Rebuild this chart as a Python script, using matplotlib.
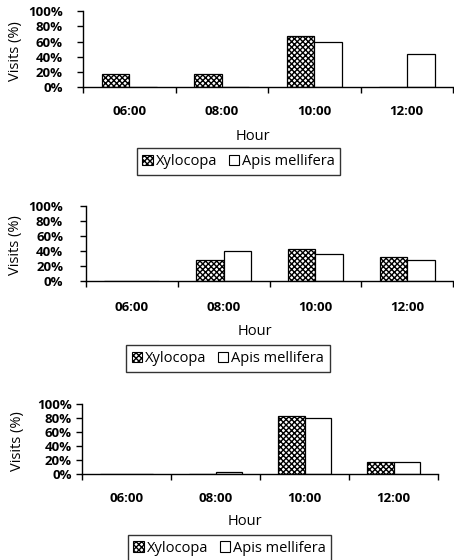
import matplotlib
matplotlib.use("Agg")
import matplotlib.pyplot as plt
from matplotlib.patches import Patch
import numpy as np

plt.rcParams['font.family'] = ['Open Sans', 'DejaVu Sans']
plt.rcParams['hatch.linewidth'] = 1.0

hours = ["06:00", "08:00", "10:00", "12:00"]
series_names = ["Xylocopa", "Apis mellifera"]
yticks = [0, 20, 40, 60, 80, 100]
ytick_labels = ["0%", "20%", "40%", "60%", "80%", "100%"]

# panel values (%)
xylocopa_1 = [18, 17, 67, 0]
apis_1 = [0, 0, 59, 43]
xylocopa_2 = [0, 28, 42, 31]
apis_2 = [0, 40, 36, 28]
xylocopa_3 = [0, 0, 84, 18]
apis_3 = [0, 4, 80, 18]

W, H = 454, 560
fig = plt.figure(figsize=(W / 100, H / 100), dpi=100)

panels = [
    dict(xyl=xylocopa_1, apis=apis_1, l=83, r=453, t=11, b=87.3, ypad=10.5,
         ylx=15, hx=253, hy=137, lgx=238.5, lgy=161.5, xpad=13),
    dict(xyl=xylocopa_2, apis=apis_2, l=86, r=453, t=205.7, b=280.7, ypad=12.5,
         ylx=15, hx=255, hy=331.7, lgx=228, lgy=358.5, xpad=14.5),
    dict(xyl=xylocopa_3, apis=apis_3, l=82, r=438, t=404.3, b=474.3, ypad=3.5,
         ylx=17, hx=245, hy=521.7, lgx=229.5, lgy=548, xpad=13),
]

bw = 0.3
x = np.arange(len(hours)) + 0.5
HATCH = 'xxxxxx'

for p in panels:
    ax = fig.add_axes([p['l'] / W, 1 - p['b'] / H, (p['r'] - p['l']) / W, (p['b'] - p['t']) / H])
    ax.bar(x - bw / 2, p['xyl'], bw, facecolor='white', edgecolor='black',
           hatch=HATCH, linewidth=0.9)
    ax.bar(x + bw / 2, p['apis'], bw, facecolor='white', edgecolor='black',
           linewidth=0.9)
    ax.set_xlim(0, len(hours))
    ax.set_ylim(0, 100)
    for s in ['top', 'right']:
        ax.spines[s].set_visible(False)
    for s in ['left', 'bottom']:
        ax.spines[s].set_linewidth(1.0)
    ax.set_yticks(yticks)
    ax.set_yticklabels(ytick_labels, fontsize=9.5, fontweight='bold')
    ax.tick_params(axis='y', length=4, width=1.0, pad=p['ypad'])
    ax.set_xticks(np.arange(len(hours) + 1))
    ax.set_xticklabels([])
    ax.set_xticks(x, minor=True)
    ax.set_xticklabels(hours, minor=True, fontsize=9.5, fontweight='bold')
    ax.tick_params(axis='x', which='major', length=4, width=1.0, direction='out')
    ax.tick_params(axis='x', which='minor', length=0, pad=p['xpad'])
    fig.text(p['ylx'] / W, 1 - ((p['t'] + p['b']) / 2 + 2) / H, "Visits (%)",
             rotation=90, ha='center', va='center', fontsize=10.5)
    fig.text(p['hx'] / W, 1 - p['hy'] / H, "Hour", ha='center', va='center', fontsize=10.5)
    handles = [Patch(facecolor='white', edgecolor='black', hatch=HATCH, linewidth=0.8),
               Patch(facecolor='white', edgecolor='black', linewidth=0.8)]
    leg = fig.legend(handles, series_names, loc='center',
                     bbox_to_anchor=(p['lgx'] / W, 1 - p['lgy'] / H),
                     ncol=2, fontsize=10.5, frameon=True, fancybox=False,
                     handlelength=0.7, handleheight=0.7, handletextpad=0.2,
                     columnspacing=0.8, borderpad=0.4, borderaxespad=0)
    leg.get_frame().set_edgecolor('black')
    leg.get_frame().set_linewidth(1.0)

fig.savefig("out.png", dpi=100)
